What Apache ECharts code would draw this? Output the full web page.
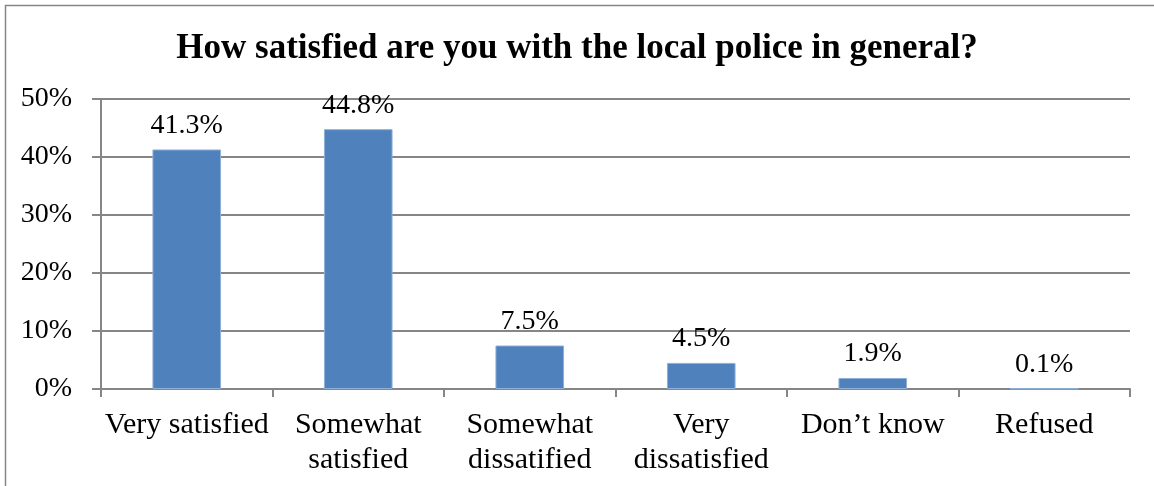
<!DOCTYPE html>
<html>
<head>
<meta charset="utf-8">
<script src="https://cdn.jsdelivr.net/npm/echarts@6/dist/echarts.min.js"></script>
<style>
  html, body { margin: 0; padding: 0; background: #fff; }
  #chart { width: 1154px; height: 486px; }
</style>
</head>
<body>
<div id="chart"></div>
<script>
// Survey responses: satisfaction with the local police
const categories = ['Very satisfied', 'Somewhat\nsatisfied', 'Somewhat\ndissatified', 'Very\ndissatisfied', 'Don\u2019t know', 'Refused'];
const percentages = [41.3, 44.8, 7.5, 4.5, 1.9, 0.1];
const yTicks = [0, 10, 20, 30, 40, 50];

const serif = '"Liberation Serif", "Times New Roman", serif';
const gray = '#868686';

const chart = echarts.init(document.getElementById('chart'));
chart.setOption({
  animation: false,
  title: {
    text: 'How satisfied are you with the local police in general?',
    left: 'center',
    top: 26,
    textStyle: { fontFamily: serif, fontSize: 35, fontWeight: 'bold', color: '#000' }
  },
  graphic: [{
    type: 'rect',
    shape: { x: 5.5, y: 5.5, width: 1160, height: 500 },
    style: { fill: 'none', stroke: gray, lineWidth: 1.5 },
    silent: true
  }],
  grid: { left: 101, right: 24, top: 99, bottom: 97 },
  xAxis: {
    type: 'category',
    data: categories,
    axisLine: { lineStyle: { color: gray, width: 2 } },
    axisTick: { show: true, length: 8, alignWithLabel: false, lineStyle: { color: gray, width: 2 } },
    axisLabel: {
      interval: 0,
      margin: 19,
      fontFamily: serif, fontSize: 30, color: '#000', lineHeight: 35
    }
  },
  yAxis: {
    type: 'value',
    min: yTicks[0],
    max: yTicks[yTicks.length - 1],
    interval: 10,
    axisLine: { show: true, lineStyle: { color: gray, width: 2 } },
    axisTick: { show: true, length: 9, lineStyle: { color: gray, width: 2 } },
    splitLine: { lineStyle: { color: gray, width: 2 } },
    axisLabel: {
      margin: 29,
      formatter: v => v + '%',
      fontFamily: serif, fontSize: 28, color: '#000'
    }
  },
  series: [{
    type: 'bar',
    data: percentages,
    barWidth: '40%',
    itemStyle: { color: '#4F81BD', borderColor: '#8FB0D8', borderWidth: 1 },
    label: {
      show: true,
      position: 'top',
      distance: 10,
      formatter: p => p.value.toFixed(1) + '%',
      fontFamily: serif, fontSize: 28, color: '#000'
    }
  }]
});
</script>
</body>
</html>
